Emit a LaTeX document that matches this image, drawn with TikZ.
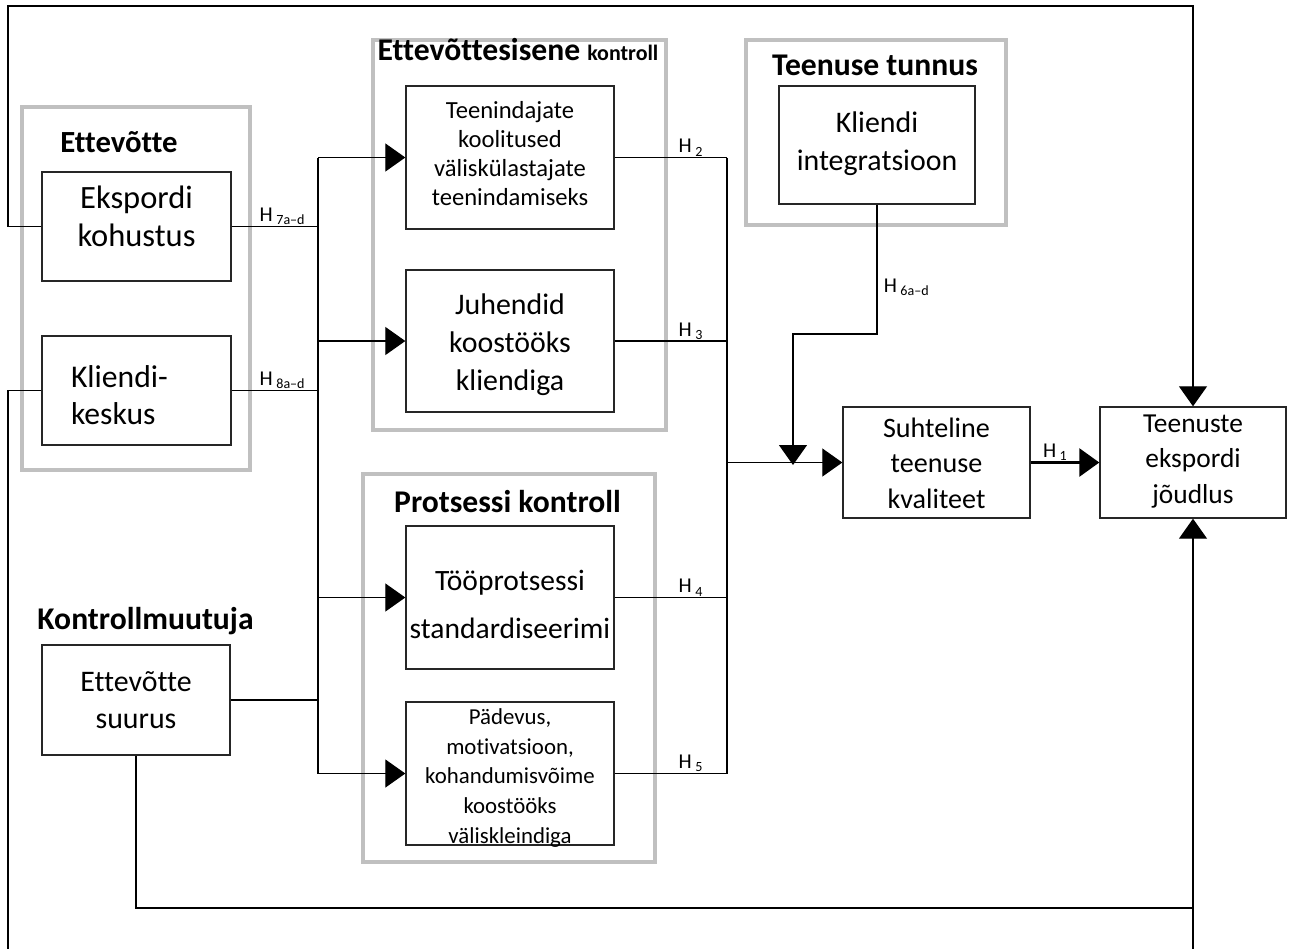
\documentclass[tikz,border=0pt]{standalone}
\usepackage{fontspec}
\setmainfont{Carlito}[Ligatures=NoCommon]
\usepackage{tikz}
\usetikzlibrary{arrows.meta,positioning}
\usepackage{xcolor}
\definecolor{framegray}{RGB}{192,192,192}
\tikzstyle{box} = [rectangle, draw=black!85, line width=0.8pt, align=center, inner sep=1pt, text depth=0pt]
\tikzstyle{group} = [rectangle, draw=framegray, line width=2.3pt]
\tikzstyle{grouptitle} = [font=\bfseries\fontsize{18}{21}\selectfont, inner sep=0pt, anchor=base]
\tikzstyle{link} = [line width=0.7pt]
\tikzstyle{arrow} = [line width=0.7pt, -{Triangle[length=0.4cm,width=0.56cm]}]
\tikzstyle{hlabel} = [font=\fontsize{12}{14}\selectfont, inner sep=0.5pt]
\newcommand{\hyp}[1]{H\,\textsubscript{#1}}

\begin{document}
\begin{tikzpicture}[x=0.02cm, y=-0.02cm]
\useasboundingbox (0,0) rectangle (1295,948);

% Group frames
\node (grpfirma) [group, minimum width=4.56cm, minimum height=7.26cm] at (136,288.5) {};
\node (grpsisene) [group, minimum width=5.86cm, minimum height=7.8cm] at (519.5,235) {};
\node (grpprotsess) [group, minimum width=5.84cm, minimum height=7.76cm] at (509,668) {};
\node (grpteenus) [group, minimum width=5.2cm, minimum height=3.7cm] at (876,132.5) {};

% Group titles
\node (tfirma) [grouptitle, font=\bfseries\fontsize{17.5}{21}\selectfont] at (119,152) {Ettevõtte};
\node (tsisene) [grouptitle] at (518,60) {Ettevõttesisene {\fontsize{12.5}{15}\selectfont kontroll}};
\node (tprotsess) [grouptitle] at (507.5,512) {Protsessi kontroll};
\node (tteenus) [grouptitle] at (875,75) {Teenuse tunnus};
\node (tkontroll) [grouptitle] at (145.5,629) {Kontrollmuutuja};

% Boxes (text height puts the last line's baseline)
\node (ekspordi) [box, minimum width=3.78cm, minimum height=2.18cm, text height=0.78cm, font=\fontsize{18.5}{21.6}\selectfont] at (136.5,226.5) {Ekspordi\\kohustus};
\node (kliendi) [box, minimum width=3.78cm, minimum height=2.18cm, text height=0pt, text depth=0.14cm, font=\fontsize{18}{21.6}\selectfont, align=left, text width=2.62cm] at (136.5,390.5) {Kliendi-\\keskus};
\node (suurus) [box, minimum width=3.76cm, minimum height=2.2cm, text height=1.12cm, font=\fontsize{17}{20.5}\selectfont] at (136,700) {Ettevõtte\\suurus};
\node (teenindajad) [box, minimum width=4.16cm, minimum height=2.86cm, text height=1.9cm, font=\fontsize{14}{16.5}\selectfont] at (510,157.5) {Teenindajate\\koolitused\\väliskülastajate\\teenindamiseks};
\node (juhendid) [box, minimum width=4.16cm, minimum height=2.84cm, text height=1.96cm, font=\fontsize{17}{21.6}\selectfont] at (510,341) {Juhendid\\koostööks\\kliendiga};
\node (protsess) [box, minimum width=4.16cm, minimum height=2.86cm, text height=1.62cm, inner xsep=0pt, font=\fontsize{16.8}{27.3}\selectfont] at (510,597.5) {Tööprotsessi\\standardiseerimi};
\node (padevus) [box, minimum width=4.16cm, minimum height=2.86cm, text height=2.78cm, inner ysep=0pt, font=\fontsize{13}{16.8}\selectfont] at (510,773.5) {Pädevus,\\motivatsioon,\\kohandumisvõime\\koostööks\\väliskleindiga};
\node (integratsioon) [box, minimum width=3.92cm, minimum height=2.36cm, text height=1cm, font=\fontsize{17}{21.6}\selectfont] at (877,145) {Kliendi\\integratsioon};
\node (suhteline) [box, minimum width=3.74cm, minimum height=2.22cm, text height=1.82cm, font=\fontsize{16}{20}\selectfont] at (936.5,462.5) {Suhteline\\teenuse\\kvaliteet};
\node (joudlus) [box, minimum width=3.72cm, minimum height=2.22cm, text height=1.62cm, font=\fontsize{15.6}{20}\selectfont] at (1193,462.5) {Teenuste\\ekspordi\\jõudlus};

% Helper coordinates
\coordinate (bus) at (318,0);
\coordinate (coll) at (727,0);
\coordinate (topleft) at (8,6);
\coordinate (botleft) at (8,975);
\coordinate (sizejoin) at (1193,908);
\coordinate (h6kink) at (793,334);
\coordinate (h6end) at (793,465);

% Antecedents to the bus
\draw[link] (ekspordi.east) -- (bus |- ekspordi.east) node[hlabel, above, pos=0.59] {\hyp{7a–d}};
\draw[link] (kliendi.east) -- (bus |- kliendi.east) node[hlabel, above, pos=0.59] {\hyp{8a–d}};
\draw[link] (suurus.east) -- (bus |- suurus.east);
\draw[link] (bus |- teenindajad.west) -- (bus |- padevus.west);
\draw[arrow] (bus |- teenindajad.west) -- (teenindajad.west);
\draw[arrow] (bus |- juhendid.west) -- (juhendid.west);
\draw[arrow] (bus |- protsess.west) -- (protsess.west);
\draw[arrow] (bus |- padevus.west) -- (padevus.west);

% Controls to the collector
\draw[link] (teenindajad.east) -- (coll |- teenindajad.east) node[hlabel, above, pos=0.68] {\hyp{2}};
\draw[link] (juhendid.east) -- (coll |- juhendid.east) node[hlabel, above, pos=0.68] {\hyp{3}};
\draw[link] (protsess.east) -- (coll |- protsess.east) node[hlabel, above, pos=0.68] {\hyp{4}};
\draw[link] (padevus.east) -- (coll |- padevus.east) node[hlabel, above, pos=0.68] {\hyp{5}};
\draw[link] (coll |- teenindajad.east) -- (coll |- padevus.east);
\draw[arrow] (coll |- suhteline.west) -- (suhteline.west);

% Moderator
\draw[arrow] (integratsioon.south) |- node[hlabel, right, pos=0.32, xshift=3pt] {\hyp{6a–d}} (h6kink) -- (h6end);

% Outcome
\draw[arrow, line width=1.6pt] (suhteline.east) -- (joudlus.west) node[hlabel, above, pos=0.36] {\hyp{1}};
\draw[arrow] (ekspordi.west) -| (topleft) -| (joudlus.north);
\draw[arrow] (kliendi.west) -| (botleft) -| (joudlus.south);
\draw[link] (suurus.south) |- (sizejoin);
\end{tikzpicture}
\end{document}
